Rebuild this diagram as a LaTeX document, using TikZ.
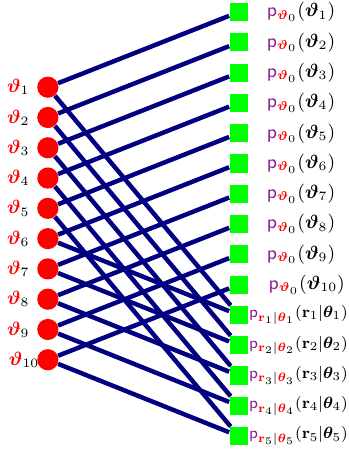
\documentclass[tikz,border=0pt]{standalone}
\usepackage{amsmath}
\usepackage{bm}
\usepackage{xcolor}
\usetikzlibrary{shapes.geometric, positioning, calc}
\definecolor{VarRed}{HTML}{FF0000}
\definecolor{FacGreen}{HTML}{00FF00}
\definecolor{EdgeNavy}{HTML}{000080}
\definecolor{PViolet}{HTML}{8B1F8F}
\tikzset{
    varnode/.style={
        circle,
        fill=VarRed,
        minimum size=0.35cm,
        inner sep=0pt
    },
    facnode/.style={
        rectangle,
        fill=FacGreen,
        minimum size=0.3cm,
        inner sep=0pt
    },
    varlabel/.style={
        anchor=west,
        font=\small,
        inner sep=0pt
    },
    faclabel/.style={
        anchor=west,
        font=\small,
        inner sep=0pt
    },
    lhlabel/.style={
        anchor=east,
        font=\footnotesize,
        scale=0.95,
        inner sep=0pt
    },
    edge/.style={
        line width=2.1pt,
        EdgeNavy
    }
}

\begin{document}
\begin{tikzpicture}
        \useasboundingbox (0,0) rectangle (5.76,-7.43);

        % Variable nodes
        \node[varnode] (v1) at (0.79,-1.44) {};
        \node[varnode] (v2) at (0.79,-1.94) {};
        \node[varnode] (v3) at (0.79,-2.44) {};
        \node[varnode] (v4) at (0.79,-2.94) {};
        \node[varnode] (v5) at (0.79,-3.44) {};
        \node[varnode] (v6) at (0.79,-3.94) {};
        \node[varnode] (v7) at (0.79,-4.44) {};
        \node[varnode] (v8) at (0.79,-4.94) {};
        \node[varnode] (v9) at (0.79,-5.44) {};
        \node[varnode] (v10) at (0.79,-5.94) {};

        % Variable labels
        \node[varlabel] (lv1) at (0.11,-1.44) {${\color{VarRed}\boldsymbol{\vartheta}}_{1}$};
        \node[varlabel] (lv2) at (0.11,-1.94) {${\color{VarRed}\boldsymbol{\vartheta}}_{2}$};
        \node[varlabel] (lv3) at (0.11,-2.44) {${\color{VarRed}\boldsymbol{\vartheta}}_{3}$};
        \node[varlabel] (lv4) at (0.11,-2.94) {${\color{VarRed}\boldsymbol{\vartheta}}_{4}$};
        \node[varlabel] (lv5) at (0.11,-3.44) {${\color{VarRed}\boldsymbol{\vartheta}}_{5}$};
        \node[varlabel] (lv6) at (0.11,-3.94) {${\color{VarRed}\boldsymbol{\vartheta}}_{6}$};
        \node[varlabel] (lv7) at (0.11,-4.44) {${\color{VarRed}\boldsymbol{\vartheta}}_{7}$};
        \node[varlabel] (lv8) at (0.11,-4.94) {${\color{VarRed}\boldsymbol{\vartheta}}_{8}$};
        \node[varlabel] (lv9) at (0.11,-5.44) {${\color{VarRed}\boldsymbol{\vartheta}}_{9}$};
        \node[varlabel] (lv10) at (0.14,-5.94) {${\color{VarRed}\boldsymbol{\vartheta}}_{10}$};

        % Prior factors
        \node[facnode] (p1) at (3.94,-0.2) {};
        \node[facnode] (p2) at (3.94,-0.7) {};
        \node[facnode] (p3) at (3.94,-1.2) {};
        \node[facnode] (p4) at (3.94,-1.7) {};
        \node[facnode] (p5) at (3.94,-2.2) {};
        \node[facnode] (p6) at (3.94,-2.7) {};
        \node[facnode] (p7) at (3.94,-3.2) {};
        \node[facnode] (p8) at (3.94,-3.7) {};
        \node[facnode] (p9) at (3.94,-4.2) {};
        \node[facnode] (p10) at (3.94,-4.7) {};

        % Likelihood factors
        \node[facnode] (r1) at (3.94,-5.2) {};
        \node[facnode] (r2) at (3.94,-5.7) {};
        \node[facnode] (r3) at (3.94,-6.2) {};
        \node[facnode] (r4) at (3.94,-6.7) {};
        \node[facnode] (r5) at (3.94,-7.2) {};

        % Factor labels
        \node[faclabel] (lp1) at (4.4,-0.2) {${\color{PViolet}\mathsf{p}}_{{\color{VarRed}\boldsymbol{\vartheta}}_0}(\boldsymbol{\vartheta}_1)$};
        \node[faclabel] (lp2) at (4.4,-0.7) {${\color{PViolet}\mathsf{p}}_{{\color{VarRed}\boldsymbol{\vartheta}}_0}(\boldsymbol{\vartheta}_2)$};
        \node[faclabel] (lp3) at (4.4,-1.2) {${\color{PViolet}\mathsf{p}}_{{\color{VarRed}\boldsymbol{\vartheta}}_0}(\boldsymbol{\vartheta}_3)$};
        \node[faclabel] (lp4) at (4.4,-1.7) {${\color{PViolet}\mathsf{p}}_{{\color{VarRed}\boldsymbol{\vartheta}}_0}(\boldsymbol{\vartheta}_4)$};
        \node[faclabel] (lp5) at (4.4,-2.2) {${\color{PViolet}\mathsf{p}}_{{\color{VarRed}\boldsymbol{\vartheta}}_0}(\boldsymbol{\vartheta}_5)$};
        \node[faclabel] (lp6) at (4.4,-2.7) {${\color{PViolet}\mathsf{p}}_{{\color{VarRed}\boldsymbol{\vartheta}}_0}(\boldsymbol{\vartheta}_6)$};
        \node[faclabel] (lp7) at (4.4,-3.2) {${\color{PViolet}\mathsf{p}}_{{\color{VarRed}\boldsymbol{\vartheta}}_0}(\boldsymbol{\vartheta}_7)$};
        \node[faclabel] (lp8) at (4.4,-3.7) {${\color{PViolet}\mathsf{p}}_{{\color{VarRed}\boldsymbol{\vartheta}}_0}(\boldsymbol{\vartheta}_8)$};
        \node[faclabel] (lp9) at (4.4,-4.2) {${\color{PViolet}\mathsf{p}}_{{\color{VarRed}\boldsymbol{\vartheta}}_0}(\boldsymbol{\vartheta}_9)$};
        \node[faclabel] (lp10) at (4.43,-4.7) {${\color{PViolet}\mathsf{p}}_{{\color{VarRed}\boldsymbol{\vartheta}}_0}(\boldsymbol{\vartheta}_{10})$};
        \node[lhlabel] (lr1) at (5.75,-5.2) {${\color{PViolet}\mathsf{p}}_{{\color{VarRed}\mathbf{r}}_1|{\color{VarRed}\boldsymbol{\theta}}_1}(\mathbf{r}_1|\boldsymbol{\theta}_1)$};
        \node[lhlabel] (lr2) at (5.75,-5.7) {${\color{PViolet}\mathsf{p}}_{{\color{VarRed}\mathbf{r}}_2|{\color{VarRed}\boldsymbol{\theta}}_2}(\mathbf{r}_2|\boldsymbol{\theta}_2)$};
        \node[lhlabel] (lr3) at (5.75,-6.2) {${\color{PViolet}\mathsf{p}}_{{\color{VarRed}\mathbf{r}}_3|{\color{VarRed}\boldsymbol{\theta}}_3}(\mathbf{r}_3|\boldsymbol{\theta}_3)$};
        \node[lhlabel] (lr4) at (5.75,-6.7) {${\color{PViolet}\mathsf{p}}_{{\color{VarRed}\mathbf{r}}_4|{\color{VarRed}\boldsymbol{\theta}}_4}(\mathbf{r}_4|\boldsymbol{\theta}_4)$};
        \node[lhlabel] (lr5) at (5.75,-7.2) {${\color{PViolet}\mathsf{p}}_{{\color{VarRed}\mathbf{r}}_5|{\color{VarRed}\boldsymbol{\theta}}_5}(\mathbf{r}_5|\boldsymbol{\theta}_5)$};

        % Prior edges
        \draw[edge] (v1) -- (p1);
        \draw[edge] (v2) -- (p2);
        \draw[edge] (v3) -- (p3);
        \draw[edge] (v4) -- (p4);
        \draw[edge] (v5) -- (p5);
        \draw[edge] (v6) -- (p6);
        \draw[edge] (v7) -- (p7);
        \draw[edge] (v8) -- (p8);
        \draw[edge] (v9) -- (p9);
        \draw[edge] (v10) -- (p10);

        % Likelihood edges
        \draw[edge] (v1) -- (r1);
        \draw[edge] (v6) -- (r1);
        \draw[edge] (v2) -- (r2);
        \draw[edge] (v7) -- (r2);
        \draw[edge] (v3) -- (r3);
        \draw[edge] (v8) -- (r3);
        \draw[edge] (v4) -- (r4);
        \draw[edge] (v9) -- (r4);
        \draw[edge] (v5) -- (r5);
        \draw[edge] (v10) -- (r5);
    \end{tikzpicture}
\end{document}
